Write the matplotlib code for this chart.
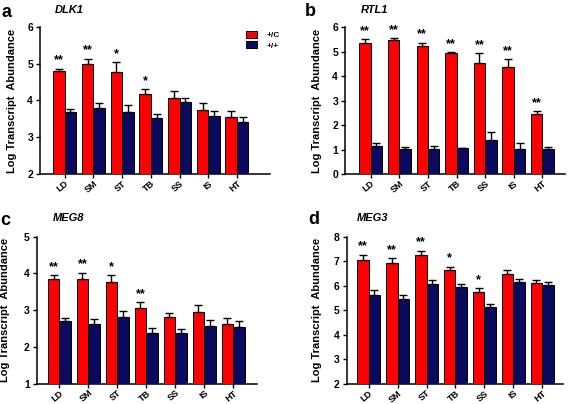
import matplotlib
matplotlib.use("Agg")
import matplotlib.pyplot as plt
from matplotlib.patches import Patch
import numpy as np

plt.rcParams['font.family'] = ['Liberation Sans', 'DejaVu Sans']
plt.rcParams['font.weight'] = 'bold'

tissues = ["LD", "SM", "ST", "TB", "SS", "IS", "HT"]
series_names = ["+/C", "+/+"]

# DLK1
dlk1_c = [4.80, 5.00, 4.78, 4.18, 4.08, 3.74, 3.55]
dlk1_c_err = [0.07, 0.14, 0.27, 0.13, 0.17, 0.19, 0.17]
dlk1_p = [3.70, 3.80, 3.68, 3.52, 3.95, 3.57, 3.42]
dlk1_p_err = [0.06, 0.13, 0.21, 0.10, 0.13, 0.15, 0.12]
dlk1_sig = ["**", "**", "*", "*", "", "", ""]

# RTL1
rtl1_c = [5.37, 5.48, 5.23, 4.93, 4.55, 4.39, 2.46]
rtl1_c_err = [0.16, 0.09, 0.14, 0.04, 0.38, 0.30, 0.12]
rtl1_p = [1.13, 1.01, 1.01, 1.05, 1.40, 1.01, 1.01]
rtl1_p_err = [0.15, 0.09, 0.12, 0.01, 0.31, 0.25, 0.09]
rtl1_sig = ["**", "**", "**", "**", "**", "**", "**"]

# MEG8
meg8_c = [3.86, 3.86, 3.77, 3.06, 2.80, 2.95, 2.62]
meg8_c_err = [0.09, 0.16, 0.18, 0.15, 0.13, 0.20, 0.16]
meg8_p = [2.70, 2.63, 2.82, 2.38, 2.37, 2.57, 2.55]
meg8_p_err = [0.09, 0.12, 0.15, 0.12, 0.11, 0.17, 0.14]
meg8_sig = ["**", "**", "*", "**", "", "", ""]

# MEG3
meg3_c = [7.06, 6.94, 7.27, 6.63, 5.73, 6.48, 6.10]
meg3_c_err = [0.21, 0.18, 0.16, 0.15, 0.16, 0.17, 0.14]
meg3_p = [5.61, 5.46, 6.08, 5.95, 5.13, 6.14, 6.03]
meg3_p_err = [0.20, 0.15, 0.16, 0.10, 0.14, 0.12, 0.12]
meg3_sig = ["**", "**", "**", "*", "*", "", ""]

RED = "#ff0000"
BLUE = "#0a0a5e"

fig = plt.figure(figsize=(5.68, 4.04), dpi=100)
W, H = 568.0, 404.0

def axes_px(left, right, top, bottom):
    return fig.add_axes([left / W, 1 - bottom / H, (right - left) / W, (bottom - top) / H])

panels = [
    dict(ax=axes_px(40, 270, 27, 174), c=dlk1_c, ce=dlk1_c_err, p=dlk1_p, pe=dlk1_p_err,
         sig=dlk1_sig, ylim=(2, 6), yt=[2, 3, 4, 5, 6], xlim=(-0.86, 7.15),
         letter="a", lpos=(2, 4), title="DLK1", tpos=(55, 5), ylx=12),
    dict(ax=axes_px(345, 565, 27.3, 174), c=rtl1_c, ce=rtl1_c_err, p=rtl1_p, pe=rtl1_p_err,
         sig=rtl1_sig, ylim=(0, 6), yt=[0, 1, 2, 3, 4, 5, 6], xlim=(-0.9, 6.79),
         letter="b", lpos=(305, 3), title="RTL1", tpos=(361, 5), ylx=317),
    dict(ax=axes_px(36.7, 257, 236.7, 383.5), c=meg8_c, ce=meg8_c_err, p=meg8_p, pe=meg8_p_err,
         sig=meg8_sig, ylim=(1, 5), yt=[1, 2, 3, 4, 5], xlim=(-0.78, 6.82),
         letter="c", lpos=(0, 212), title="MEG8", tpos=(53, 213), ylx=5),
    dict(ax=axes_px(346.7, 563, 236.7, 383.7), c=meg3_c, ce=meg3_c_err, p=meg3_p, pe=meg3_p_err,
         sig=meg3_sig, ylim=(2, 8), yt=[2, 3, 4, 5, 6, 7, 8], xlim=(-0.76, 6.72),
         letter="d", lpos=(308, 211), title="MEG3", tpos=(357, 213), ylx=317),
]

x = np.arange(len(tissues))
bw = 0.4
for P in panels:
    ax = P["ax"]
    ax.bar(x - bw / 2, P["c"], width=bw, color=RED, edgecolor="black", linewidth=0.7,
           yerr=[np.zeros(len(x)), P["ce"]], error_kw=dict(ecolor="black", elinewidth=1.0, capsize=2.8, capthick=1.0),
           zorder=3, label=series_names[0])
    ax.bar(x + bw / 2, P["p"], width=bw, color=BLUE, edgecolor="black", linewidth=0.7,
           yerr=[np.zeros(len(x)), P["pe"]], error_kw=dict(ecolor="black", elinewidth=1.0, capsize=2.8, capthick=1.0),
           zorder=3, label=series_names[1])
    for i, s in enumerate(P["sig"]):
        if s:
            ax.annotate(s, (x[i] - bw / 2, P["c"][i] + P["ce"][i]), xytext=(0, 1.5),
                        textcoords="offset points", ha="center", va="bottom",
                        fontsize=9, fontweight="bold")
    ax.set_xlim(*P["xlim"])
    ax.set_ylim(*P["ylim"])
    ax.set_yticks(P["yt"])
    ax.set_xticks(x)
    ax.set_xticklabels(tissues, rotation=40, ha="right", rotation_mode="anchor",
                       fontsize=6.6, fontweight="bold")
    ax.tick_params(axis="both", direction="out", length=3, width=1.0, pad=2)
    ax.tick_params(axis="x", pad=0.5)
    for lab in ax.get_yticklabels():
        lab.set_fontsize(7.5)
        lab.set_fontweight("bold")
    for sp in ["top", "right"]:
        ax.spines[sp].set_visible(False)
    for sp in ["left", "bottom"]:
        ax.spines[sp].set_linewidth(1.1)
    pos = ax.get_position()
    fig.text(P["ylx"] / W, (pos.y0 + pos.y1) / 2, "Log Transcript  Abundance", rotation=90,
             ha="center", va="center", fontsize=8, fontweight="bold")
    fig.text(P["lpos"][0] / W, 1 - P["lpos"][1] / H, P["letter"], ha="left", va="top",
             fontsize=13, fontweight="bold")
    fig.text(P["tpos"][0] / W, 1 - P["tpos"][1] / H, P["title"], ha="left", va="top",
             fontsize=8, fontweight="bold", style="italic")

ax0 = panels[0]["ax"]
handles = [Patch(facecolor=RED, edgecolor="black", linewidth=0.7),
           Patch(facecolor=BLUE, edgecolor="black", linewidth=0.7)]
ax0.legend(handles, series_names, loc="upper left", bbox_to_anchor=(240 / W, 1 - 25 / H),
           bbox_transform=fig.transFigure, frameon=False, handlelength=1.3,
           handleheight=0.9, handletextpad=1.2, labelspacing=0.25, borderpad=0.2,
           prop=dict(weight="bold", size=6))

fig.savefig("out.png", dpi=100)
